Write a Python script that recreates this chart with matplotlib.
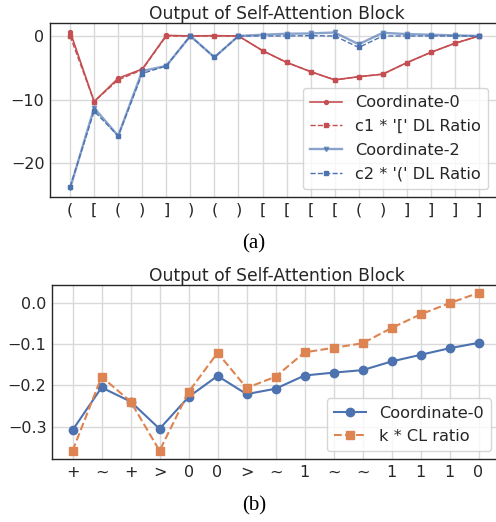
import matplotlib
matplotlib.use("Agg")
import matplotlib.pyplot as plt
import numpy as np

# ---- data (a) ----
tokens_a = ["(", "[", "(", ")", "]", ")", "(", ")", "[", "[", "[", "[", "(", ")", "]", "]", "]", "]"]
coord0 = [0.7, -10.3, -6.65, -5.2, 0.1, 0.0, 0.05, 0.0, -2.3, -4.15, -5.6, -6.9, -6.4, -6.0, -4.2, -2.57, -1.15, 0.0]
c1_ratio = [0.0, -10.3, -6.9, -5.3, 0.0, 0.0, 0.0, 0.0, -2.3, -4.15, -5.6, -6.9, -6.4, -6.0, -4.2, -2.57, -1.15, 0.0]
coord2 = [-23.95, -11.3, -15.7, -5.5, -4.7, 0.0, -3.35, 0.0, 0.2, 0.35, 0.4, 0.55, -1.3, 0.5, 0.3, 0.2, 0.1, 0.0]
c2_ratio = [-23.7, -11.8, -15.7, -5.9, -4.7, 0.0, -3.35, 0.0, 0.0, 0.0, 0.05, 0.0, -1.8, 0.0, 0.0, 0.0, 0.0, 0.0]

# ---- data (b) ----
tokens_b = ["+", "~", "+", ">", "0", "0", ">", "~", "1", "~", "~", "1", "1", "1", "0"]
coord0_b = [-0.308, -0.205, -0.239, -0.305, -0.228, -0.177, -0.221, -0.208, -0.176, -0.169, -0.163, -0.142, -0.126, -0.110, -0.097]
k_cl = [-0.358, -0.179, -0.239, -0.358, -0.216, -0.121, -0.206, -0.179, -0.120, -0.109, -0.098, -0.061, -0.028, -0.001, 0.024]

RED = "#C44E52"
BLUE = "#4C72B0"
ORANGE = "#DD8452"
TXT = "#262626"

plt.rcParams.update({
    "font.family": "DejaVu Sans",
    "font.size": 11,
    "text.color": TXT,
    "axes.labelcolor": TXT,
    "xtick.color": TXT,
    "ytick.color": TXT,
})

fig = plt.figure(figsize=(4.96, 5.22), dpi=100)

def style(ax):
    ax.grid(True, color="#d9d9d9", linewidth=1.0)
    ax.set_axisbelow(True)
    for s in ax.spines.values():
        s.set_color(TXT)
        s.set_linewidth(1.0)
    ax.tick_params(length=0, labelsize=11.5, pad=4)

# ---- top ----
ax1 = fig.add_axes([50/496, 1-197/522, 454/496, 174/522])
xa = np.arange(len(tokens_a))
ax1.plot(xa, coord0, "-", color=RED, marker="o", markersize=2.8, linewidth=1.2, label="Coordinate-0")
ax1.plot(xa, c1_ratio, "--", color=RED, marker="s", markersize=2.8, linewidth=1.0, label="c1 * '[' DL Ratio")
ax1.plot(xa, coord2, "-", color=BLUE, marker="v", markersize=3.2, linewidth=1.7, alpha=0.65, label="Coordinate-2")
ax1.plot(xa, c2_ratio, "--", color=BLUE, marker="s", markersize=2.8, linewidth=1.0, label="c2 * '(' DL Ratio")
ax1.set_xticks(xa)
ax1.set_xticklabels(tokens_a)
ax1.set_yticks([0, -10, -20])
ax1.set_xlim(-0.835, 18.04)
ax1.set_ylim(-25.3, 2.04)
ax1.set_title("Output of Self-Attention Block", fontsize=12.3, pad=3, color=TXT)
style(ax1)
ax1.legend(loc="lower right", fontsize=11.6, framealpha=0.8, edgecolor="#cccccc",
           bbox_to_anchor=((488-50)/454, 8/174), borderaxespad=0, borderpad=0.45, labelspacing=0.55)

# ---- bottom ----
ax2 = fig.add_axes([52/496, 1-459/522, 450/496, 174/522])
xb = np.arange(len(tokens_b))
ax2.plot(xb, coord0_b, "-", color=BLUE, marker="o", markersize=6, linewidth=1.5, label="Coordinate-0")
ax2.plot(xb, k_cl, "--", color=ORANGE, marker="s", markersize=6, linewidth=1.5, label="k * CL ratio")
ax2.set_xticks(xb)
ax2.set_xticklabels(tokens_b)
ax2.set_yticks([0.0, -0.1, -0.2, -0.3])
ax2.set_xlim(-0.71, 14.81)
ax2.set_ylim(-0.378, 0.043)
ax2.set_title("Output of Self-Attention Block", fontsize=12.3, pad=3, color=TXT)
style(ax2)
ax2.legend(loc="lower right", fontsize=11.6, framealpha=0.8, edgecolor="#cccccc",
           bbox_to_anchor=((491-52)/450, 8/174), borderaxespad=0, borderpad=0.45, labelspacing=0.5)

fig.text(254/496, 1-244/522, "(a)", ha="center", va="center", fontsize=15, family="Liberation Serif", color="black")
fig.text(254/496, 1-506/522, "(b)", ha="center", va="center", fontsize=15, family="Liberation Serif", color="black")

fig.savefig("out.png", dpi=100)
